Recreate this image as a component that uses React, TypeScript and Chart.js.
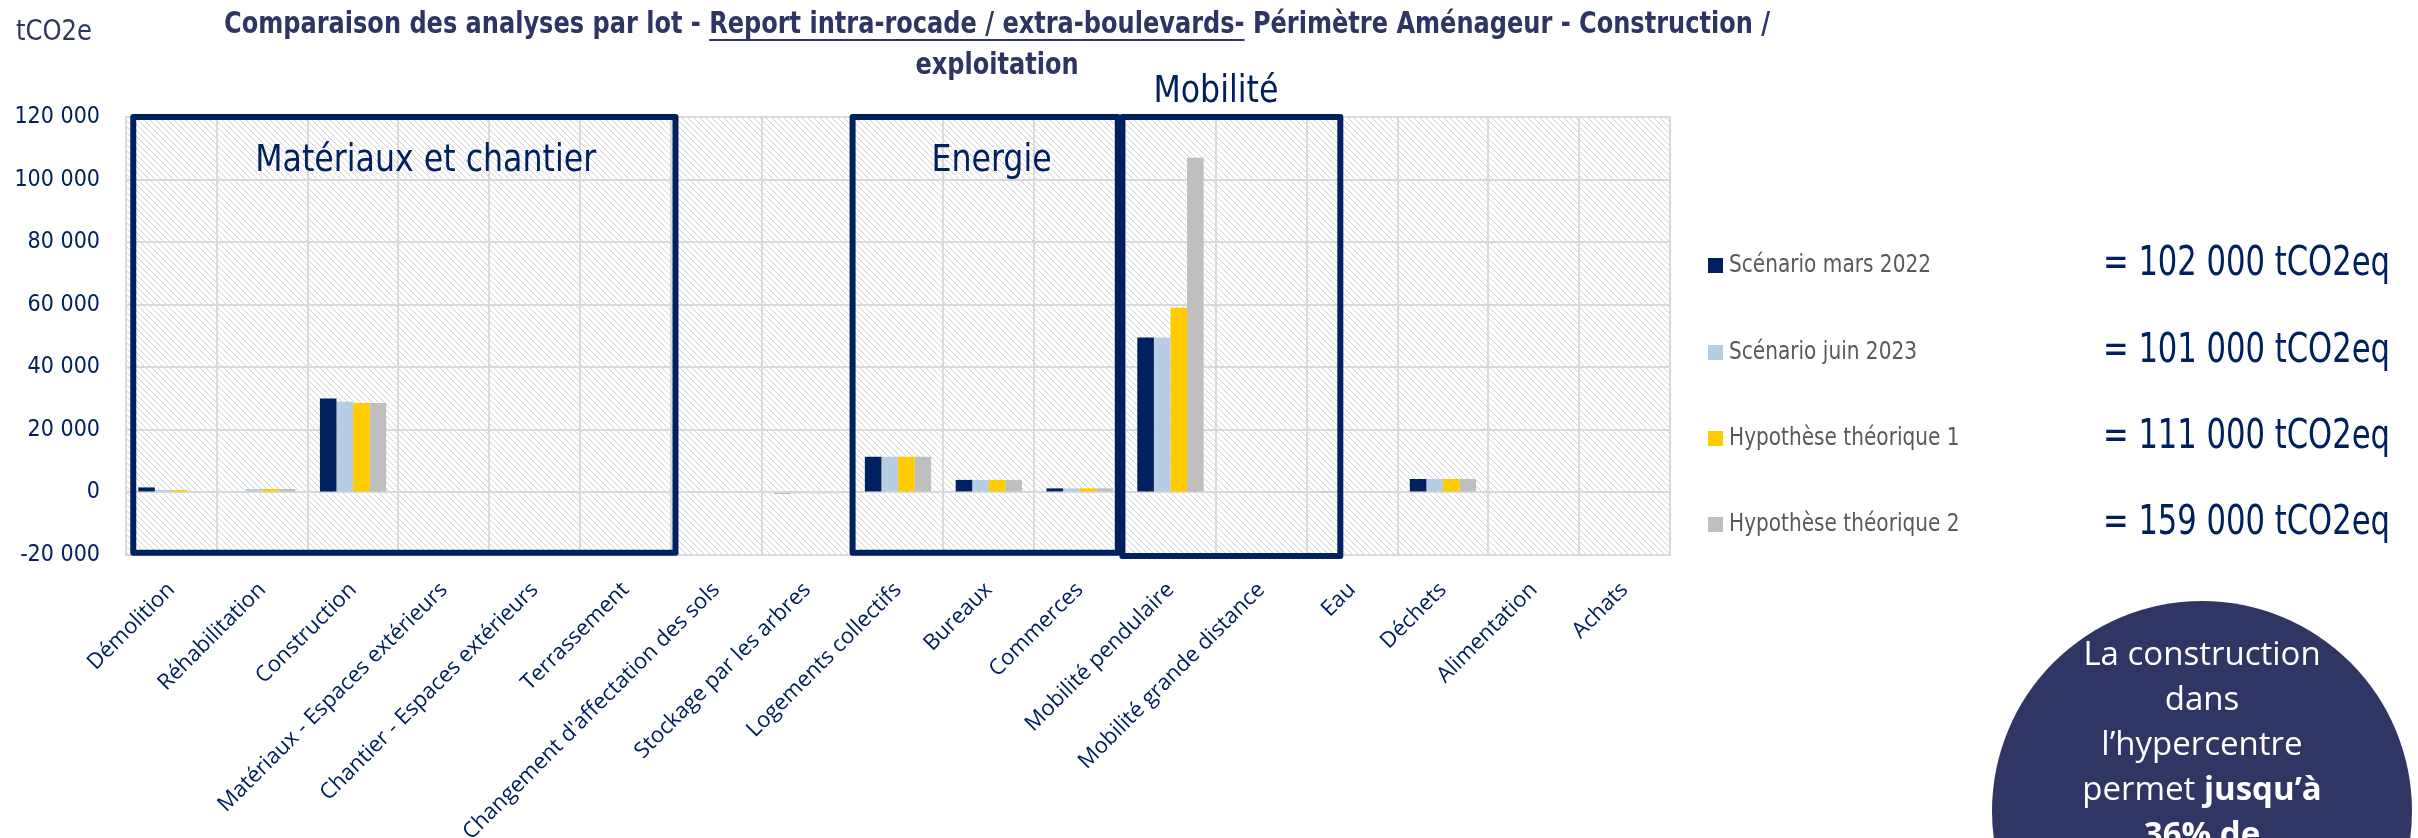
import React, { useEffect, useRef } from "react";
import { Chart, registerables } from "chart.js";

Chart.register(...registerables);

// ---------- DATA ----------
const categories = [
  "Démolition",
  "Réhabilitation",
  "Construction",
  "Matériaux - Espaces extérieurs",
  "Chantier - Espaces extérieurs",
  "Terrassement",
  "Changement d'affectation des sols",
  "Stockage par les arbres",
  "Logements collectifs",
  "Bureaux",
  "Commerces",
  "Mobilité pendulaire",
  "Mobilité grande distance",
  "Eau",
  "Déchets",
  "Alimentation",
  "Achats",
];

const seriesLabels = [
  "Scénario mars 2022",
  "Scénario juin 2023",
  "Hypothèse théorique 1",
  "Hypothèse théorique 2",
];

const scenarioMars2022 = [1600, 0, 30000, 0, 0, 0, 0, -400, 11400, 4000, 1300, 49500, 0, 300, 4300, 0, 0];
const scenarioJuin2023 = [800, 1100, 29000, 0, 0, 0, 0, -400, 11400, 4000, 1300, 49500, 0, 300, 4300, 0, 0];
const hypothese1 = [800, 1100, 28600, 0, 0, 0, 0, -400, 11400, 4000, 1300, 59000, 0, 300, 4300, 0, 0];
const hypothese2 = [0, 1100, 28600, 0, 300, 0, 0, -400, 11400, 4000, 1300, 107000, 0, 300, 4300, 0, 0];

const totals = [
  "= 102 000 tCO2eq",
  "= 101 000 tCO2eq",
  "= 111 000 tCO2eq",
  "= 159 000 tCO2eq",
];

const yMin = -20000;
const yMax = 120000;
const yStep = 20000;

const groupLabels = ["Matériaux et chantier", "Energie", "Mobilité"];
const groupFrom = [-0.42, 7.5, 10.47];
const groupTo = [5.55, 10.42, 12.87];
const groupBottom = [-19300, -19300, -20300];
const groupLabelAt = [2.8, 9.03, 11.5];

const titleParts = [
  { text: "Comparaison des analyses par lot - ", underline: false },
  { text: "Report intra-rocade / extra-boulevards-", underline: true },
  { text: " Périmètre Aménageur - Construction /", underline: false },
];
const titleLine2 = "exploitation";
const unitLabel = "tCO2e";

const calloutLines = [
  [{ t: "La construction", b: false }],
  [{ t: "dans", b: false }],
  [{ t: "l’hypercentre", b: false }],
  [{ t: "permet ", b: false }, { t: "jusqu’à", b: true }],
  [{ t: "36% de", b: true }],
];

// ---------- STYLE ----------
const seriesColors = ["#002060", "#B8CCE4", "#FFCC00", "#BFBFBF"];
const NAVY = "#002060";
const TITLE_COLOR = "#2F3562";
const COND = "'Liberation Sans Narrow', 'DejaVu Sans Condensed', 'Arial Narrow', sans-serif";
const SANS = "'Open Sans', 'Noto Sans', sans-serif";
const W = 2418;
const H = 838;

function makeHatch(ctx: CanvasRenderingContext2D) {
  const s = 6;
  const c = document.createElement("canvas");
  c.width = s;
  c.height = s;
  const g = c.getContext("2d")!;
  g.fillStyle = "#ffffff";
  g.fillRect(0, 0, s, s);
  g.strokeStyle = "#D2D2D2";
  g.lineWidth = 1;
  g.beginPath();
  g.moveTo(0, 0);
  g.lineTo(s, s);
  g.moveTo(-1, s - 1);
  g.lineTo(1, s + 1);
  g.moveTo(s - 1, -1);
  g.lineTo(s + 1, 1);
  g.stroke();
  return ctx.createPattern(c, "repeat");
}

// horizontally squeezed text so it fills a target width (narrow-font look)
function squeezeFor(ctx: CanvasRenderingContext2D, text: string, font: string, target: number) {
  ctx.font = font;
  const w = ctx.measureText(text).width;
  return Math.min(1, target / w);
}

function drawNarrow(
  ctx: CanvasRenderingContext2D,
  text: string,
  x: number,
  y: number,
  font: string,
  sx: number,
  align: CanvasTextAlign
) {
  ctx.save();
  ctx.font = font;
  ctx.textAlign = align;
  ctx.textBaseline = "middle";
  ctx.translate(x, y);
  ctx.scale(sx, 1);
  ctx.fillText(text, 0, 0);
  ctx.restore();
}

const decorPlugin = {
  id: "decor",
  beforeDraw(chart: any) {
    const { ctx, chartArea } = chart;
    ctx.save();
    ctx.fillStyle = "#ffffff";
    ctx.fillRect(0, 0, chart.width, chart.height);
    const pat = makeHatch(ctx);
    if (pat) {
      ctx.fillStyle = pat;
      ctx.fillRect(chartArea.left, chartArea.top, chartArea.right - chartArea.left, chartArea.bottom - chartArea.top);
    }
    ctx.restore();
  },
  afterDatasetsDraw(chart: any) {
    const { ctx } = chart;
    const xs = chart.scales.x;
    const ys = chart.scales.y;
    const step = xs.getPixelForValue(1) - xs.getPixelForValue(0);
    const base = xs.getPixelForValue(0);
    const gFont = `37px ${COND}`;
    const gSq = squeezeFor(ctx, groupLabels[0], gFont, 341);
    ctx.save();
    ctx.strokeStyle = NAVY;
    ctx.lineWidth = 6;
    ctx.lineJoin = "round";
    for (let i = 0; i < groupLabels.length; i++) {
      const x0 = base + groupFrom[i] * step;
      const x1 = base + groupTo[i] * step;
      const y0 = ys.getPixelForValue(yMax);
      const y1 = ys.getPixelForValue(groupBottom[i]);
      ctx.strokeRect(x0, y0, x1 - x0, y1 - y0);
      ctx.fillStyle = NAVY;
      const cx = base + groupLabelAt[i] * step;
      if (i === 2) {
        drawNarrow(ctx, groupLabels[i], cx, y0 - 25, gFont, gSq, "center");
      } else {
        drawNarrow(ctx, groupLabels[i], cx, y0 + 44, gFont, gSq, "center");
      }
    }
    ctx.restore();
  },
  afterDraw(chart: any) {
    const { ctx } = chart;
    ctx.save();
    // unit
    ctx.fillStyle = TITLE_COLOR;
    const uFont = `29px ${COND}`;
    drawNarrow(ctx, unitLabel, 16, 32, uFont, squeezeFor(ctx, unitLabel, uFont, 76), "left");

    // title
    const tFont = `bold 31px ${COND}`;
    ctx.font = tFont;
    const widths = titleParts.map((p) => ctx.measureText(p.text).width);
    const total = widths.reduce((a, b) => a + b, 0);
    const tSq = Math.min(1, 1546 / total);
    let x = 997 - (total * tSq) / 2;
    titleParts.forEach((p, i) => {
      drawNarrow(ctx, p.text, x, 25, tFont, tSq, "left");
      if (p.underline) {
        ctx.fillRect(x, 39, widths[i] * tSq, 2);
      }
      x += widths[i] * tSq;
    });
    drawNarrow(ctx, titleLine2, 997, 66, tFont, tSq, "center");

    // legend
    const rowsY = [265, 352, 438, 524];
    const lFont = `25px ${COND}`;
    const lSq = squeezeFor(ctx, seriesLabels[0], lFont, 202);
    const vFont = `40px ${COND}`;
    const vSq = squeezeFor(ctx, totals[0], vFont, 287);
    for (let i = 0; i < seriesLabels.length; i++) {
      ctx.fillStyle = seriesColors[i];
      ctx.fillRect(1708, rowsY[i] - 7, 15, 15);
      ctx.fillStyle = "#595959";
      drawNarrow(ctx, seriesLabels[i], 1729, rowsY[i], lFont, lSq, "left");
      ctx.fillStyle = NAVY;
      drawNarrow(ctx, totals[i], 2103, rowsY[i], vFont, vSq, "left");
    }

    // callout circle
    ctx.fillStyle = "#303664";
    ctx.beginPath();
    ctx.arc(2202, 811, 210, 0, Math.PI * 2);
    ctx.fill();
    ctx.fillStyle = "#ffffff";
    ctx.textBaseline = "middle";
    ctx.textAlign = "left";
    calloutLines.forEach((line, li) => {
      const ws = line.map((seg) => {
        ctx.font = `${seg.b ? "bold " : ""}33px ${SANS}`;
        return ctx.measureText(seg.t).width;
      });
      const tw = ws.reduce((a, b) => a + b, 0);
      let sx = 2202 - tw / 2;
      line.forEach((seg, si) => {
        ctx.font = `${seg.b ? "bold " : ""}33px ${SANS}`;
        ctx.fillText(seg.t, sx, 656 + li * 45);
        sx += ws[si];
      });
    });
    ctx.restore();
  },
};

function fmt(v: number) {
  const s = Math.abs(v).toString().replace(/\B(?=(\d{3})+(?!\d))/g, " ");
  return (v < 0 ? "-" : "") + s;
}

export default function App() {
  const ref = useRef<HTMLCanvasElement | null>(null);

  useEffect(() => {
    document.body.style.margin = "0";
    document.body.style.overflow = "hidden";
    const canvas = ref.current!;
    const seriesData = [scenarioMars2022, scenarioJuin2023, hypothese1, hypothese2];
    const chart = new Chart(canvas, {
      type: "bar",
      data: {
        labels: categories,
        datasets: seriesData.map((d, i) => ({
          label: seriesLabels[i],
          data: d,
          backgroundColor: seriesColors[i],
          borderWidth: 0,
          categoryPercentage: 0.73,
          barPercentage: 1.0,
        })),
      },
      options: {
        responsive: false,
        devicePixelRatio: 1,
        animation: false,
        events: [],
        layout: { padding: { left: 0, right: W - 1670, top: 117, bottom: 0 } },
        plugins: {
          legend: { display: false },
          tooltip: { enabled: false },
          title: { display: false },
        },
        scales: {
          x: {
            grid: { color: "#D9D9D9", lineWidth: 2, drawTicks: false, offset: true },
            border: { display: true, color: "#D9D9D9", width: 2 },
            ticks: {
              autoSkip: false,
              minRotation: 45,
              maxRotation: 45,
              color: NAVY,
              padding: 22,
              font: { family: SANS, size: 22 },
            },
            afterFit: (scale: any) => {
              scale.height = H - 555;
            },
          },
          y: {
            min: yMin,
            max: yMax,
            grid: { color: "#D9D9D9", lineWidth: 2, drawTicks: false },
            border: { display: true, color: "#D9D9D9", width: 2 },
            ticks: {
              stepSize: yStep,
              color: NAVY,
              padding: 26,
              font: { family: COND, size: 23 },
              callback: (v: any) => fmt(Number(v)),
            },
            afterFit: (scale: any) => {
              scale.width = 126;
            },
          },
        },
      },
      plugins: [decorPlugin],
    });
    return () => chart.destroy();
  }, []);

  return (
    <div style={{ width: W, height: H, position: "relative" }}>
      <canvas ref={ref} width={W} height={H} style={{ display: "block", width: W, height: H }} />
    </div>
  );
}
